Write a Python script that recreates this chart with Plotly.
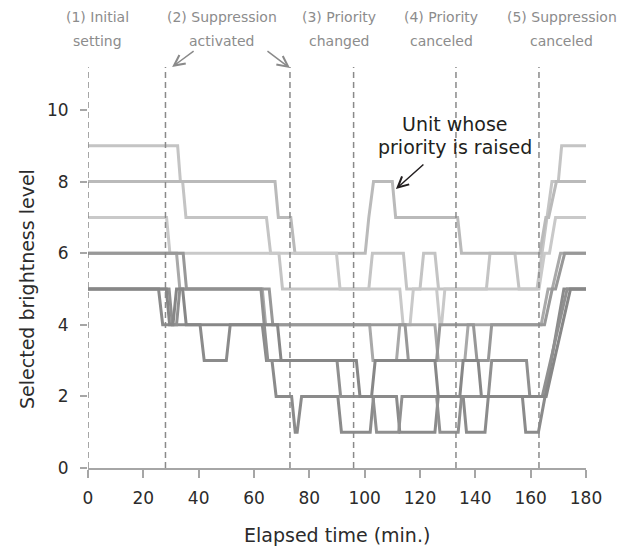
import plotly.graph_objects as go

# ---- data: selected brightness level of each unit vs elapsed time (min.) ----
t_u1 = [0, 32.4, 33.4, 34.2, 35.4, 64.5, 66, 69, 70.3, 101.5, 102.8, 114, 115.2, 120, 121.3, 125.4, 126.7, 144, 145.3, 154.3, 155.8, 162.3, 164.1, 165.9, 167.7, 170, 171.2, 180]
lv_u1 = [9, 9, 8, 8, 7, 7, 6, 6, 5, 5, 6, 6, 5, 5, 6, 6, 5, 5, 6, 6, 5, 5, 6, 7, 8, 8, 9, 9]

t_u2 = [0, 67.6, 68.8, 73.3, 74.8, 100.2, 101.5, 103.2, 110, 111.2, 133.6, 135, 163.3, 165.5, 166.5, 169.3, 180]
lv_u2 = [8, 8, 7, 7, 6, 6, 7, 8, 8, 7, 7, 6, 6, 7, 7, 8, 8]

t_u3 = [0, 28.4, 29.6, 89.8, 91.1, 112.7, 113.9, 116.4, 117.6, 126, 127.2, 127.8, 129, 163.0, 165.0, 166.8, 169.0, 180]
lv_u3 = [7, 7, 6, 6, 5, 5, 4, 4, 5, 5, 4, 4, 5, 5, 6, 6, 7, 7]

t_u4 = [0, 32, 33.2, 63, 64.2, 101.8, 103, 111.5, 112.7, 125.4, 126.6, 136.2, 137.4, 163.8, 166.3, 167.8, 170.8, 180]
lv_u4 = [6, 6, 5, 5, 4, 4, 3, 3, 4, 4, 3, 3, 4, 4, 5, 5, 6, 6]

t_u5 = [0, 34.4, 35.6, 65.5, 66.8, 114.6, 115.8, 126, 127.2, 139.3, 140.6, 144.7, 145.9, 165.0, 167.8, 169.0, 172.3, 180]
lv_u5 = [6, 6, 5, 5, 4, 4, 3, 3, 4, 4, 3, 3, 4, 4, 5, 5, 6, 6]

t_u6 = [0, 25.5, 27, 40.5, 42, 50, 51.4, 63, 64.5, 66.5, 68, 73.6, 74.9, 75.6, 77.2, 90.3, 91.6, 102, 103.2, 111.5,
        112.7, 125.4, 126.6, 135.6, 136.8, 143.5, 144.7, 157, 158.2, 162.8, 165.2, 167.4, 169.7, 172.0, 180]
lv_u6 = [5, 5, 4, 4, 3, 3, 4, 4, 3, 3, 2, 2, 1, 1, 2, 2, 1, 1, 2, 2,
         1, 1, 2, 2, 1, 1, 2, 2, 1, 1, 2, 3, 4, 5, 5]

t_u7 = [0, 29.3, 30.5, 32, 33.2, 62.5, 63.7, 65, 90, 91.3, 103, 104.3, 112.3, 113.5, 126, 127.2, 133.8, 135, 144.7, 145.9,
        158.5, 159.7, 164.2, 167.2, 170.2, 173.2, 180]
lv_u7 = [5, 5, 4, 4, 5, 5, 4, 3, 3, 2, 2, 1, 1, 2, 2, 1, 1, 2, 2, 3,
         3, 2, 2, 3, 4, 5, 5]

t_u8 = [0, 28.3, 29.5, 30.7, 32, 34.2, 35.5, 68.5, 69.8, 97, 98.3, 102.5, 103.8, 125.4, 126.6, 134.4, 135.6, 141, 142.2, 165.6,
        168.5, 171.4, 174.4, 180]
lv_u8 = [5, 5, 4, 4, 5, 5, 4, 4, 3, 3, 2, 2, 3, 3, 2, 2, 3, 3, 2, 2,
         3, 4, 5, 5]

unit_colors = ["#c4c4c4", "#bababa", "#c9c9c9", "#a9a9a9", "#989898", "#8b8b8b", "#909090", "#878787"]

event_times = [0, 28, 73, 96, 133, 163]
event_line1 = ["(1) Initial", "(2) Suppression", "(3) Priority", "(4) Priority", "(5) Suppression"]
event_line2 = ["setting", "activated", "changed", "canceled", "canceled"]
event_label_x = [3.6, 48.4, 90.7, 127.6, 171.3]

x_ticks = list(range(0, 181, 20))
y_ticks = list(range(0, 11, 2))

FONT = "DejaVu Sans"
AXIS_GRAY = "#a6a6a6"
TEXT = "#2b2b2b"

series = [(t_u1, lv_u1), (t_u2, lv_u2), (t_u3, lv_u3), (t_u4, lv_u4),
          (t_u5, lv_u5), (t_u6, lv_u6), (t_u7, lv_u7), (t_u8, lv_u8)]

fig = go.Figure()
for (t, lv), c in zip(series, unit_colors):
    fig.add_trace(go.Scatter(x=t, y=lv, mode="lines", line=dict(color=c, width=3),
                             hoverinfo="skip", showlegend=False))

for et in event_times:
    fig.add_shape(type="line", xref="x", yref="paper", x0=et, x1=et, y0=0, y1=1,
                  line=dict(color="#8a8a8a", width=1.5, dash="6px,4px"))

annotations = []
for lx, a, b in zip(event_label_x, event_line1, event_line2):
    annotations.append(dict(x=lx, xref="x", y=1, yref="paper", yshift=50, text=a, showarrow=False,
                            font=dict(family=FONT, size=14, color="#8c8c8c"), xanchor="center", yanchor="middle"))
    annotations.append(dict(x=lx, xref="x", y=1, yref="paper", yshift=26, text=b, showarrow=False,
                            font=dict(family=FONT, size=14, color="#8c8c8c"), xanchor="center", yanchor="middle"))

# gray arrows from "activated"
annotations.append(dict(x=30.4, y=11.2, xref="x", yref="y", ax=23, ay=-17, text="", showarrow=True,
                        arrowhead=5, arrowsize=1.4, arrowwidth=1.5, arrowcolor="#8a8a8a", standoff=0))
annotations.append(dict(x=73.0, y=11.17, xref="x", yref="y", ax=-24, ay=-18, text="", showarrow=True,
                        arrowhead=5, arrowsize=1.4, arrowwidth=1.5, arrowcolor="#8a8a8a", standoff=0))

# unit whose priority is raised
annotations.append(dict(x=132.6, y=(468 - 124) / 35.8, xref="x", yref="y", text="Unit whose", showarrow=False,
                        font=dict(family=FONT, size=19, color="#231f20"), xanchor="center", yanchor="middle"))
annotations.append(dict(x=132.6, y=(468 - 147) / 35.8, xref="x", yref="y", text="priority is raised", showarrow=False,
                        font=dict(family=FONT, size=19, color="#231f20"), xanchor="center", yanchor="middle"))
annotations.append(dict(x=111.3, y=7.79, xref="x", yref="y", ax=29, ay=-26, text="", showarrow=True,
                        arrowhead=5, arrowsize=1.4, arrowwidth=1.5, arrowcolor="#231f20", standoff=0))

# axis titles
annotations.append(dict(x=0.5, xref="paper", y=0, yref="paper", yshift=-67, text="Elapsed time (min.)",
                        showarrow=False, font=dict(family=FONT, size=19, color=TEXT),
                        xanchor="center", yanchor="middle"))
annotations.append(dict(x=-0.1225, xref="paper", y=5, yref="y", text="Selected brightness level",
                        textangle=-90, showarrow=False, font=dict(family=FONT, size=19, color=TEXT),
                        xanchor="center", yanchor="middle"))

# page body has an 8px default margin, so the figure is sized to fit the window
fig.update_layout(
    width=622, height=539,
    margin=dict(l=80, r=44, t=59, b=79),
    paper_bgcolor="white", plot_bgcolor="white",
    annotations=annotations,
    xaxis=dict(range=[0, 180], tickvals=x_ticks, showline=True, linecolor=AXIS_GRAY, linewidth=2,
               ticks="outside", ticklen=8, tickwidth=2, tickcolor=AXIS_GRAY, showgrid=False, zeroline=False,
               ticklabelstandoff=6,
               tickfont=dict(family=FONT, size=17, color=TEXT)),
    yaxis=dict(range=[0, 11.2], tickvals=y_ticks, showline=False,
               ticks="outside", ticklen=7, tickwidth=2, tickcolor=AXIS_GRAY, showgrid=False, zeroline=False,
               ticklabelstandoff=8,
               tickfont=dict(family=FONT, size=17, color=TEXT)),
)

fig.write_html("out.html")
